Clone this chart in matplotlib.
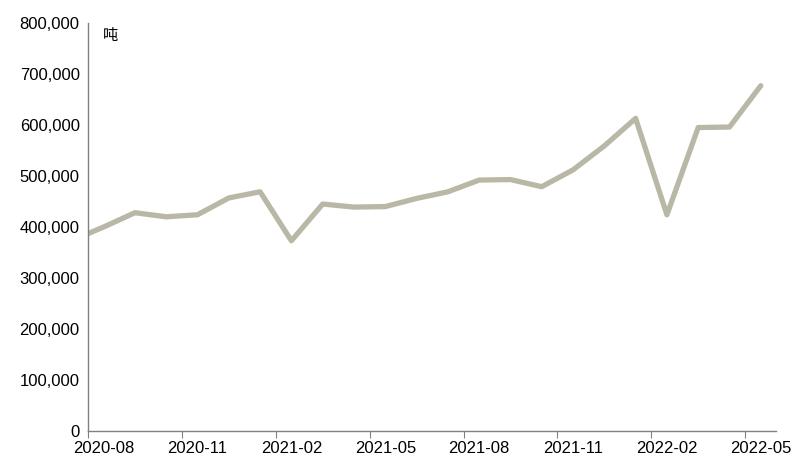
import matplotlib.pyplot as plt
import numpy as np

plt.rcParams['font.family'] = ['Liberation Sans', 'Noto Sans CJK SC', 'DejaVu Sans']

# monthly values, tonnes (first one is 2020-07, cut off by the axis)
months = ['2020-07', '2020-08', '2020-09', '2020-10', '2020-11', '2020-12',
          '2021-01', '2021-02', '2021-03', '2021-04', '2021-05', '2021-06',
          '2021-07', '2021-08', '2021-09', '2021-10', '2021-11', '2021-12',
          '2022-01', '2022-02', '2022-03', '2022-04', '2022-05']
values = [374000, 400000, 428000, 420000, 424000, 457000, 469000, 373000,
          445000, 439000, 440000, 456000, 469000, 492000, 493000, 479000,
          512000, 559000, 613000, 424000, 595000, 596000, 677000]
tick_labels = ['2020-08', '2020-11', '2021-02', '2021-05',
               '2021-08', '2021-11', '2022-02', '2022-05']

pos = np.arange(len(months)) - 1  # 2020-08 sits at 0

fig = plt.figure(figsize=(7.97, 4.73), dpi=100)
ax = fig.add_axes([0.1104, 0.0888, 0.8638, 0.8626])

ax.plot(pos, values, color='#b9b8a6', lw=3.8,
        solid_joinstyle='round', solid_capstyle='round')

ax.set_xlim(-0.5, 21.5)
ax.set_ylim(0, 800000)
ax.set_yticks(np.arange(0, 800001, 100000))
ax.set_yticklabels([f'{v:,.0f}' for v in np.arange(0, 800001, 100000)])

# tick marks on month boundaries, labels centred on the month
ax.set_xticks(np.arange(-0.5, 21, 3))
ax.set_xticklabels([])
ax.set_xticks(np.arange(0, 22, 3), minor=True)
ax.set_xticklabels(tick_labels, minor=True)
ax.tick_params(axis='both', which='both', labelsize=12, labelcolor='black')
ax.tick_params(axis='x', which='minor', length=0, pad=7)
ax.tick_params(axis='x', which='major', length=5, color='#808080')
ax.tick_params(axis='y', length=0, pad=6)

for s in ['top', 'right']:
    ax.spines[s].set_visible(False)
for s in ['left', 'bottom']:
    ax.spines[s].set_color('#808080')
    ax.spines[s].set_linewidth(1)

ax.text(0.022, 0.99, '吨', transform=ax.transAxes, fontsize=11,
        va='top', ha='left', family=['Noto Sans CJK SC', 'DejaVu Sans'])

fig.savefig('out.png', dpi=100)
